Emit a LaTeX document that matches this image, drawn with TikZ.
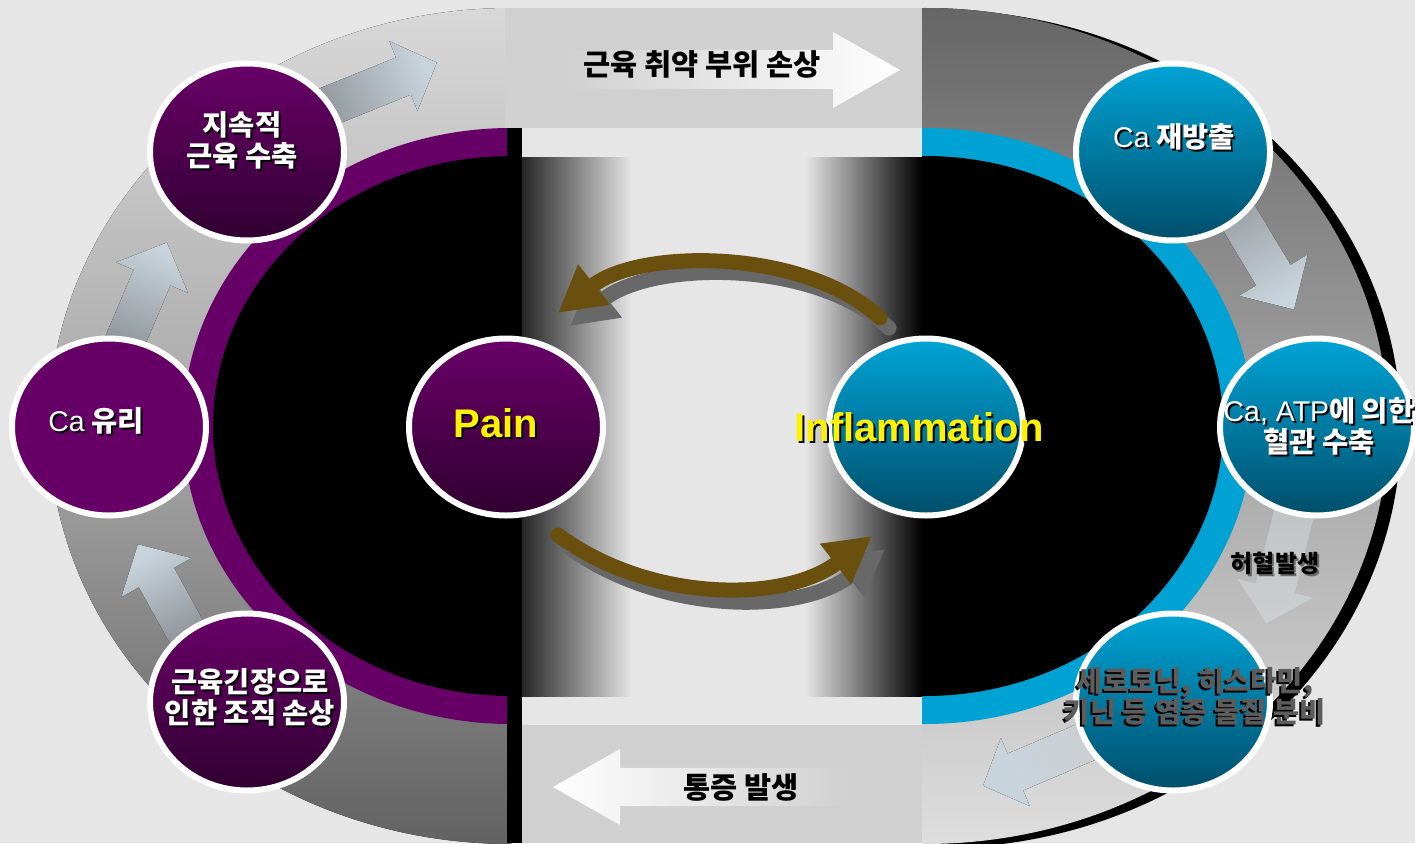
\documentclass[tikz,border=0pt]{standalone}
\usepackage{fontspec}
\setmainfont{Liberation Sans}
\newfontfamily\kr{Noto Sans CJK KR}
\newfontfamily\lat{Liberation Sans}
\usetikzlibrary{shapes.geometric,arrows.meta,fadings}
\definecolor{bg}{HTML}{E6E6E6}
\definecolor{ptop}{HTML}{690068}
\definecolor{pbot}{HTML}{300030}
\definecolor{pflat}{HTML}{660066}
\definecolor{btop}{HTML}{00A4D6}
\definecolor{bbot}{HTML}{004E6A}
\definecolor{ringblue}{HTML}{00A2D4}
\definecolor{arrbrown}{HTML}{6A500E}
\definecolor{shadowgray}{HTML}{686868}
\definecolor{rectgray}{HTML}{D0D0D0}
\definecolor{lt}{HTML}{D8D8D8}
\definecolor{lm}{HTML}{A8A8A8}
\definecolor{lb}{HTML}{626262}
\definecolor{rt}{HTML}{666666}
\definecolor{rm}{HTML}{A4A4A4}
\definecolor{rb}{HTML}{DEDEDE}
\definecolor{ahead}{HTML}{C8D4DC}
\definecolor{atail}{HTML}{989CA0}
\definecolor{sertext}{HTML}{5C5C5C}
\newcommand\latin[1]{{\lat\mdseries #1}}
% name, position, style, text colour, shadow colour, shadow offset, text
\newcommand\stext[7]{%
  \node[#3,text=#5] (#1s) at ([shift={(#6)}]#2) {#7};
  \node[#3,text=#4] (#1) at (#2) {#7};}
% tail, angle (image, clockwise), length, shaft width, head width, head length, style
\newcommand\blockarrow[7]{%
  \begin{scope}[shift={(#1)},rotate=-#2]
    \fill[#7] (0,-#4/2) -- (#3-#6,-#4/2) -- (#3-#6,-#5/2) -- (#3,0)
      -- (#3-#6,#5/2) -- (#3-#6,#4/2) -- (0,#4/2) -- cycle;
  \end{scope}}
\begin{document}
\begin{tikzpicture}[x=1pt,y=-1pt,
  cnode/.style={ellipse, draw=white, line width=6pt, minimum width=194pt,
    minimum height=177pt, inner sep=0pt},
  pnode/.style={cnode, top color=ptop, bottom color=pbot},
  pnodeflat/.style={cnode, fill=pflat},
  bnode/.style={cnode, top color=btop, bottom color=bbot},
  ko/.style={font=\kr\bfseries\fontsize{28.5}{31}\selectfont, align=center, inner sep=0pt},
  big/.style={font=\lat\bfseries\fontsize{40}{44}\selectfont, inner sep=0pt},
  brarrow/.style={line width=15pt, line cap=round, -{Triangle[length=46pt,width=48pt]}}
]
\useasboundingbox (0,0) rectangle (1415,843);
\fill[bg] (0,0) rectangle (1415,843);

% left ring
\begin{scope}
  \clip (0,0) rectangle (511,843);
  \fill[top color=lt, bottom color=lb, middle color=lm] (511,426) ellipse [x radius=462pt, y radius=418pt];
  \fill[pflat] (511,426) ellipse [x radius=328pt, y radius=298pt];
  \fill[black] (511,426) ellipse [x radius=298pt, y radius=270pt];
\end{scope}
% right ring
\begin{scope}
  \clip (922,0) rectangle (1415,843);
  \fill[black] (938,429) ellipse [x radius=463pt, y radius=419pt];
  \fill[top color=rt, bottom color=rb, middle color=rm] (925,426) ellipse [x radius=463pt, y radius=418pt];
  \fill[ringblue] (925,426) ellipse [x radius=328pt, y radius=298pt];
  \fill[black] (925,426) ellipse [x radius=298pt, y radius=270pt];
\end{scope}

% central band
\fill[rectgray] (505,8) rectangle (922,128);
\fill[rectgray] (522,725) rectangle (922,843);
\fill[left color=black!85, right color=bg] (522,157) rectangle (632,696);
\fill[left color=bg, right color=black] (805,157) rectangle (922,696);
\fill[black] (507,128) rectangle (522,843);

% banner arrows
\fill[white, path fading=west]
  (560,50) -- (833,50) -- (833,32) -- (900,70) -- (833,108) -- (833,89) -- (560,89) -- cycle;
\fill[white, path fading=east]
  (553,787) -- (620,749) -- (620,768) -- (850,768) -- (850,806) -- (620,806) -- (620,825) -- cycle;

% block arrows on the rings
\blockarrow{307,115}{-22}{140}{40}{75}{36}{top color=ahead, bottom color=atail!110, shading angle=-68}
\blockarrow{120,353}{-67}{120}{40}{78}{38}{top color=ahead, bottom color=atail!110, shading angle=-23}
\blockarrow{201,658}{-119}{130}{40}{80}{38}{top color=ahead, bottom color=atail!85!black, shading angle=29}
\blockarrow{1227,198}{59}{130}{40}{80}{40}{top color=ahead, bottom color=atail, shading angle=-149}
\blockarrow{1298,497}{104}{130}{40}{78}{36}{fill=ahead!50!white, fill opacity=0.35}
\blockarrow{1112,731}{157}{140}{40}{74}{35}{top color=ahead, bottom color=atail!50!white, shading angle=-247}

% curved brown arrows
\coordinate (tA) at (880,318);
\coordinate (tB) at (558,313);
\coordinate (bA) at (558,535);
\coordinate (bB) at (872,536);
\draw[brarrow, shadowgray] ([shift={(9,10)}]tA) .. controls +(-75,-70) and +(82,-65) .. ([shift={(12,13)}]tB);
\draw[brarrow, arrbrown] (tA) .. controls +(-75,-70) and +(82,-65) .. (tB);
\draw[brarrow, shadowgray] ([shift={(9,11)}]bA) .. controls +(92,68) and +(-87,67) .. ([shift={(13,13)}]bB);
\draw[brarrow, arrbrown] (bA) .. controls +(92,68) and +(-87,67) .. (bB);

% circles
\node[pnode] (n1) at (247,152) {};
\node[pnodeflat] (n2) at (109,427) {};
\node[pnode] (n3) at (247,702) {};
\node[pnode] (pain) at (506,427) {};
\node[bnode] (infl) at (926,427) {};
\node[bnode] (n5) at (1173,152) {};
\node[bnode] (n6) at (1317,427) {};
\node[bnode] (n7) at (1173,702) {};

% texts
\stext{t1}{242,140}{ko}{white}{black}{2,2}{지속적\\근육 수축}
\stext{t2}{96,421}{ko}{white}{black}{2,2}{\latin{Ca} 유리}
\stext{t3}{250,697}{ko}{white}{black}{2,2}{근육긴장으로\\인한 조직 손상}
\stext{tpain}{496,423}{big}{yellow}{black}{2,2}{Pain}
\stext{tinfl}{919,427}{big}{yellow}{black}{2,2}{Inflammation}
\stext{t5}{1174,137}{ko}{white}{black}{2,2}{\latin{Ca} 재방출}
\stext{t6}{1319,426}{ko}{white}{black}{2,2}{\latin{Ca, ATP}에 의한\\혈관 수축}
\stext{t7}{1195,696}{ko}{sertext}{black}{-2,2}{세로토닌, 히스타민,\\키닌 등 염증 물질 분비}
\stext{t8}{1275,563}{ko, font=\kr\bfseries\fontsize{24}{28}\selectfont}{black}{shadowgray}{2,2}{허혈발생}
\node[ko, font=\kr\bfseries\fontsize{29.5}{32}\selectfont] (ttop) at (702,64) {근육 취약 부위 손상};
\node[ko, font=\kr\bfseries\fontsize{29.5}{32}\selectfont] (tbot) at (741,787) {통증 발생};
\end{tikzpicture}
\end{document}
